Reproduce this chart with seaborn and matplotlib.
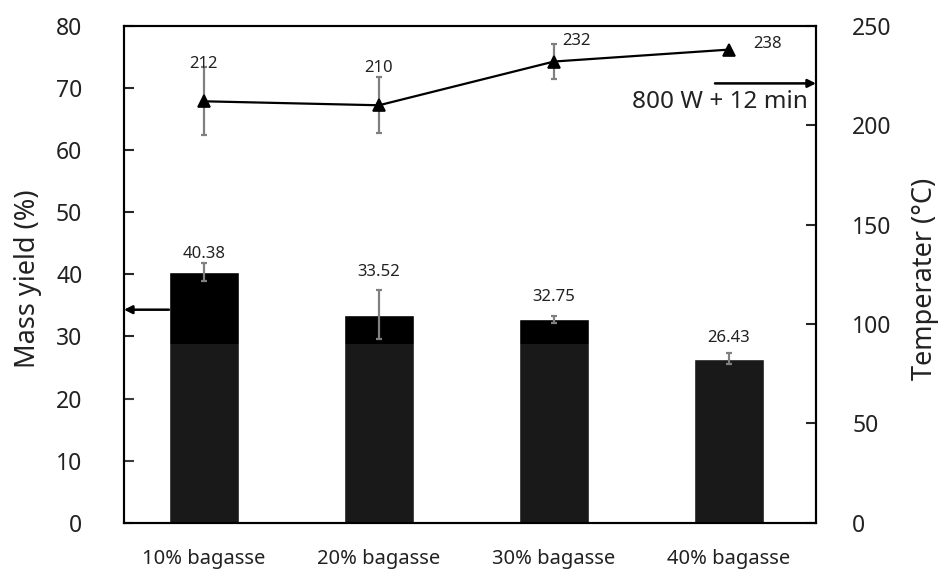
import numpy as np
import matplotlib
matplotlib.use("Agg")
import matplotlib.pyplot as plt
import seaborn as sns
import pandas as pd

# data
categories = ["10% bagasse", "20% bagasse", "30% bagasse", "40% bagasse"]
mass_yield = [40.38, 33.52, 32.75, 26.43]
mass_err = [1.45, 4.0, 0.6, 0.9]
temperature = [212, 210, 232, 238]
temp_err = [17, 14, 8.6, 0]

left_ticks = [0, 10, 20, 30, 40, 50, 60, 70, 80]
right_ticks = [0, 50, 100, 150, 200, 250]

df = pd.DataFrame({"cat": categories, "mass": mass_yield, "temp": temperature})

sns.set_theme(style="white")
plt.rcParams["font.family"] = ["Noto Sans", "DejaVu Sans"]

fig = plt.figure(figsize=(9.39, 5.72), dpi=100)
ax = fig.add_axes([0.132, 0.086, 0.737, 0.869])

# bars
sns.barplot(data=df, x="cat", y="mass", color="black", width=0.4,
            saturation=1, ax=ax, zorder=2)
xpos = np.arange(len(categories))
ax.errorbar(xpos, mass_yield, yerr=mass_err, fmt="none", ecolor="#808080",
            elinewidth=1.6, capsize=2.5, capthick=1.6, zorder=4)
# faint watermark shade over the lower part of the bars
ax.axhspan(0, 28.7, color="white", alpha=0.1, lw=0, zorder=3)

bar_label_dy = [6.5, 13, 13.5, 11]
for x, v, e, dy in zip(xpos, mass_yield, mass_err, bar_label_dy):
    ax.annotate(f"{v:.2f}", (x, v + e), xytext=(0, dy), textcoords="offset points",
                ha="center", va="center", fontsize=12, color="#222222")

ax.set_ylim(0, 80)
ax.set_yticks(left_ticks)
ax.set_xlim(-0.457, 3.497)
ax.set_xlabel("")
ax.set_ylabel("Mass yield (%)", fontsize=19.5, color="#222222")
ax.yaxis.set_label_coords(-0.118, 0.49)
ax.tick_params(axis="y", direction="in", length=7, width=1.5, pad=30,
               labelsize=16.5, labelcolor="#222222", left=True)
ax.tick_params(axis="x", length=0, pad=19, labelsize=14.5, labelcolor="#222222")

# temperature line on the twin axis
ax2 = ax.twinx()
ax2.errorbar(xpos, temperature, yerr=temp_err, fmt="none", ecolor="#808080",
             elinewidth=1.6, capsize=2.5, capthick=1.6, zorder=2)
sns.pointplot(data=df, x="cat", y="temp", color="black", markers="^",
              markersize=9, linewidth=1.6, errorbar=None, ax=ax2)
ax2.set_xlim(-0.457, 3.497)
ax2.set_ylim(0, 250)
ax2.set_yticks(right_ticks)
ax2.set_xlabel("")
ax2.set_ylabel("Temperater (\u00b0C)", fontsize=19.5, color="#222222")
ax2.yaxis.set_label_coords(1.137, 0.49)
ax2.tick_params(axis="y", direction="in", length=7, width=1.5, pad=26,
                labelsize=16.5, labelcolor="#222222", right=True)

label_offsets = [(0, 27), (0, 27), (16, 15), (28, 4)]
for x, t, off in zip(xpos, temperature, label_offsets):
    ax2.annotate(f"{t}", (x, t), xytext=off, textcoords="offset points",
                 ha="center", va="center", fontsize=12, color="#222222")

# arrows pointing to the axes
ax.annotate("", xy=(-0.457, 34.3), xytext=(-0.2, 34.3),
            arrowprops=dict(arrowstyle="-|>", color="black", lw=1.8,
                            mutation_scale=12, shrinkA=0, shrinkB=0))
ax2.annotate("", xy=(3.497, 221), xytext=(2.92, 221),
             arrowprops=dict(arrowstyle="-|>", color="black", lw=1.8,
                             mutation_scale=12, shrinkA=0, shrinkB=0))
ax2.text(2.95, 211.5, "800 W + 12 min", ha="center", va="center",
         fontsize=17.5, color="#222222")

for a in (ax, ax2):
    for s in a.spines.values():
        s.set_color("black")
        s.set_linewidth(1.5)

fig.savefig("out.png", dpi=100)
